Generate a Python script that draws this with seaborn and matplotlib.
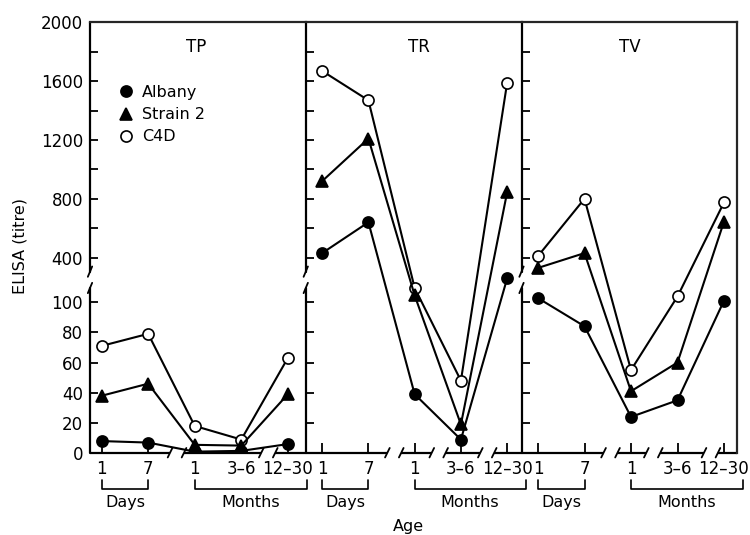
import numpy as np
import pandas as pd
import matplotlib
matplotlib.use('Agg')
import matplotlib.pyplot as plt
import matplotlib.transforms as mtransforms
from matplotlib.lines import Line2D
import seaborn as sns

panels = ['TP', 'TR', 'TV']
strains = ['Albany', 'Strain 2', 'C4D']
positions = [0, 1, 2, 3, 4]
age_labels = ['1', '7', '1', '3–6', '12–30']

tp_albany = [8, 7, 1, 1.5, 6]
tp_strain2 = [38, 46, 5.5, 5, 39]
tp_c4d = [71, 79, 18, 9, 63]

tr_albany = [430, 640, 39, 9, 260]
tr_strain2 = [920, 1210, 145, 19, 845]
tr_c4d = [1670, 1470, 195, 48, 1590]

tv_albany = [127, 84, 24, 35, 110]
tv_strain2 = [330, 430, 41, 60, 645]
tv_c4d = [410, 800, 55, 138, 775]

y_major = [0, 20, 40, 60, 80, 100, 400, 800, 1200, 1600, 2000]
y_minor = [600, 1000, 1400, 1800]

records = []
panel_series = [[tp_albany, tp_strain2, tp_c4d],
                [tr_albany, tr_strain2, tr_c4d],
                [tv_albany, tv_strain2, tv_c4d]]
for panel, series in zip(panels, panel_series):
    for strain, vals in zip(strains, series):
        for pos, v in zip(positions, vals):
            records.append({'panel': panel, 'strain': strain, 'pos': pos, 'titre': v})
df = pd.DataFrame(records)

# broken y axis: 0-100 linear, 100-400 squeezed into the gap, 400-2000 linear
y_knots = np.array([-1000, 0, 100, 400, 2000, 5000])
h_knots = np.array([-1510, 0, 151, 195.6, 430.6, 871.3])


def fwd(v):
    return np.interp(v, y_knots, h_knots)


def inv(h):
    return np.interp(h, h_knots, y_knots)


def yfrac(v):
    return float(fwd(v) / fwd(2000))


styles = {
    'C4D': dict(marker='o', markersize=8, markerfacecolor='white'),
    'Strain 2': dict(marker='^', markersize=8.5, markerfacecolor='black'),
    'Albany': dict(marker='o', markersize=8, markerfacecolor='black'),
}

sns.set_theme(style='ticks')
plt.rcParams['font.family'] = ['DejaVu Sans']
plt.rcParams['text.color'] = 'black'
plt.rcParams['axes.labelcolor'] = 'black'
plt.rcParams['xtick.color'] = 'black'
plt.rcParams['ytick.color'] = 'black'

fig, axes = plt.subplots(1, 3, figsize=(7.5, 5.35), dpi=100, sharey=True)
fig.subplots_adjust(left=0.12, right=0.983, bottom=0.153, top=0.958, wspace=0)
axes[0].set_yscale('function', functions=(fwd, inv))

xlims = [(-0.25, 4.385), (-0.355, 4.31), (-0.355, 4.285)]
x_breaks = [[1.62, 3.58], [1.56, 2.52, 3.57], [1.56, 2.48, 3.72]]
title_x = [0.493, 0.525, 0.5]
lw_axis = 1.6

for i, (ax, name) in enumerate(zip(axes, panels)):
    sub = df[df['panel'] == name]
    for strain in ['C4D', 'Strain 2', 'Albany']:
        sns.lineplot(data=sub[sub['strain'] == strain], x='pos', y='titre', ax=ax,
                     color='black', linewidth=1.5, markeredgecolor='black',
                     markeredgewidth=1.2, legend=False, **styles[strain])
    ax.set_xlim(*xlims[i])
    ax.set_ylim(0, 2000)
    ax.set_xlabel('')
    ax.set_ylabel('')
    ax.set_xticks(positions)
    ax.set_xticklabels(age_labels, fontsize=12)
    ax.yaxis.set_major_locator(matplotlib.ticker.FixedLocator(y_major))
    ax.yaxis.set_minor_locator(matplotlib.ticker.FixedLocator(y_minor))
    ax.yaxis.set_major_formatter(matplotlib.ticker.FixedFormatter([str(v) for v in y_major]))
    ax.tick_params(axis='both', which='both', direction='in', width=1.3, colors='black')
    ax.tick_params(axis='y', which='both', length=6, pad=5, labelsize=12, right=False)
    ax.tick_params(axis='x', length=7, pad=5, top=False)

    for side in ['left', 'bottom']:
        ax.spines[side].set_visible(False)
    ax.spines['top'].set_linewidth(lw_axis)
    ax.spines['right'].set_linewidth(lw_axis)
    ax.spines['right'].set_visible(i == 2)

    # left spine with break
    a1, a2 = yfrac(195), yfrac(305)
    ax.plot([0, 0], [0, a1], transform=ax.transAxes, color='black', lw=lw_axis, clip_on=False)
    ax.plot([0, 0], [a2, 1], transform=ax.transAxes, color='black', lw=lw_axis, clip_on=False)
    for a in (a1, a2):
        ax.plot([-0.01, 0.01], [a - 0.012, a + 0.012], transform=ax.transAxes,
                color='black', lw=1.3, clip_on=False)

    # bottom spine with breaks
    blend = mtransforms.blended_transform_factory(ax.transData, ax.transAxes)
    edges = [xlims[i][0]]
    for c in x_breaks[i]:
        edges += [c - 0.15, c + 0.15]
    edges.append(xlims[i][1])
    for k in range(0, len(edges), 2):
        ax.plot([edges[k], edges[k + 1]], [0, 0], transform=blend, color='black',
                lw=lw_axis, clip_on=False, solid_capstyle='butt')
    for e in edges[1:-1]:
        ax.plot([e - 0.05, e + 0.05], [-0.01, 0.012], transform=blend, color='black',
                lw=1.3, clip_on=False)

    # Days / Months brackets
    ax.plot([0, 0, 1, 1], [-0.063, -0.084, -0.084, -0.063], transform=blend,
            color='black', lw=1.2, clip_on=False)
    ax.plot([2, 2, 4.41, 4.41], [-0.063, -0.084, -0.084, -0.063], transform=blend,
            color='black', lw=1.2, clip_on=False)
    ax.text(0.5, -0.115, 'Days', transform=blend, ha='center', va='center', fontsize=11.5)
    ax.text(3.2, -0.115, 'Months', transform=blend, ha='center', va='center', fontsize=11.5)

    ax.text(title_x[i], 0.944, name, transform=ax.transAxes, ha='center', va='center',
            fontsize=12)

handles = [Line2D([], [], linestyle='none', color='black', markeredgecolor='black',
                  markeredgewidth=1.2, **styles[s]) for s in strains]
axes[0].legend(handles, strains, loc='upper left', bbox_to_anchor=(0.129, 0.855),
               frameon=False, fontsize=11.5, handlelength=1.0, handletextpad=0.5,
               labelspacing=0.45, borderpad=0, borderaxespad=0, labelcolor='black')

fig.text(0.027, 0.54, 'ELISA (titre)', rotation=90, ha='center', va='center', fontsize=11.5)
fig.text(0.544, 0.015, 'Age', ha='center', va='center', fontsize=11.5)

plt.savefig('out.png', dpi=100)
plt.close()
